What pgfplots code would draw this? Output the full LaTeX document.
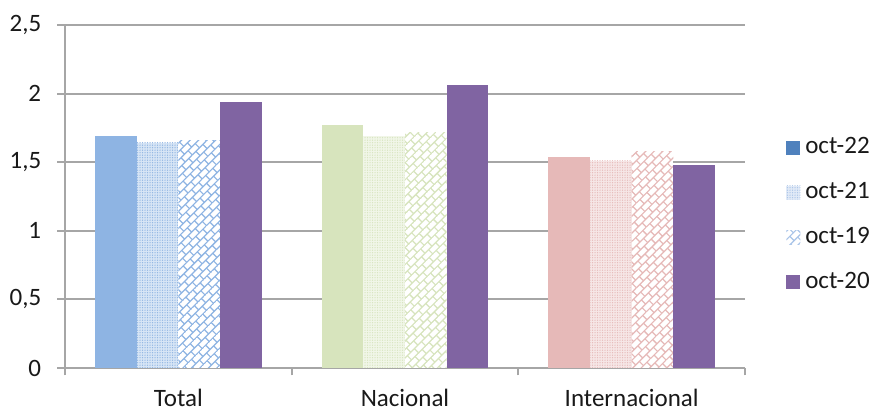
\documentclass[border=0pt]{standalone}
\usepackage{pgfplots}
\pgfplotsset{compat=1.18}
\usepackage{fontspec}
\setmainfont{Carlito}
\usetikzlibrary{patterns,patterns.meta}

\definecolor{totc}{HTML}{8EB4E3}
\definecolor{nacc}{HTML}{D7E4BD}
\definecolor{intc}{HTML}{E6B9B8}
\definecolor{purp}{HTML}{8064A2}
\definecolor{leg22}{HTML}{4F81BD}
\definecolor{legpat}{HTML}{A9C4E8}
\definecolor{gridc}{HTML}{A6A6A6}

% diagonal bricks
\tikzdeclarepattern{
  name=dbricks,
  type=uncolored,
  bottom left={(-0.2pt,-0.2pt)},
  top right={(4.2pt,5pt)},
  tile size={(4pt,4.8pt)},
  tile transformation={rotate=45},
  code={
    \draw[line width=0.5pt] (0pt,0pt) -- (4pt,0pt) (0pt,2.4pt) -- (4pt,2.4pt)
      (0pt,0pt) -- (0pt,2.4pt) (2pt,2.4pt) -- (2pt,4.8pt);
  }
}

\pgfplotsset{
  o22/.style={ybar, bar width=0.184, bar shift=-0.276, draw=none, fill=#1, forget plot},
  o21/.style={ybar, bar width=0.184, bar shift=-0.092, draw=none, fill=#1!35!white,
    postaction={pattern={Dots[distance=1pt, radius=0.28pt]}, pattern color=#1}, forget plot},
  o19/.style={ybar, bar width=0.184, bar shift=0.092, draw=none, fill=white,
    postaction={pattern=dbricks, pattern color=#1}, forget plot},
  o20/.style={ybar, bar width=0.184, bar shift=0.276, draw=none, fill=purp, forget plot},
}

\begin{document}
\begin{tikzpicture}
\begin{axis}[
    name=ax,
    scale only axis,
    width=272pt, height=137.2pt,
    xmin=-0.5, xmax=2.5,
    ymin=0, ymax=2.5,
    ytick={0,0.5,...,2.5},
    xtick={-0.5,0.5,1.5,2.5},
    x tick label as interval,
    xticklabels={Total,Nacional,Internacional},
    axis x line*=bottom, axis y line*=left,
    axis line style={gridc, line width=0.8pt},
    ymajorgrids, grid style={gridc, line width=0.8pt},
    tick align=outside, major tick length=3pt,
    tick style={gridc, line width=0.8pt},
    ticklabel style={font=\fontsize{10}{12}\selectfont, text=black!90},
    yticklabel style={xshift=-3pt},
    xticklabel style={yshift=-2pt},
    /pgf/number format/use comma,
    /pgf/number format/assume math mode=true,
    legend style={draw=none, fill=none, at={(1.06,0.446)}, anchor=west,
      font=\fontsize{10}{12}\selectfont, text=black!90, row sep=6pt, inner sep=0pt},
    legend cell align=left,
    clip=false,
]
% oct-22
\addplot[o22=totc] coordinates {(0,1.69)};
\addplot[o22=nacc] coordinates {(1,1.77)};
\addplot[o22=intc] coordinates {(2,1.54)};
% oct-21
\addplot[o21=totc] coordinates {(0,1.64)};
\addplot[o21=nacc] coordinates {(1,1.69)};
\addplot[o21=intc] coordinates {(2,1.51)};
% oct-19
\addplot[o19=totc] coordinates {(0,1.66)};
\addplot[o19=nacc] coordinates {(1,1.72)};
\addplot[o19=intc] coordinates {(2,1.58)};
% oct-20
\addplot[o20] coordinates {(0,1.94)};
\addplot[o20] coordinates {(1,2.06)};
\addplot[o20] coordinates {(2,1.48)};

\addlegendimage{draw=none, legend image code/.code={\path[draw=none, fill=leg22] (0pt,-2.8pt) rectangle (5.6pt,2.8pt);}}
\addlegendentry{oct-22}
\addlegendimage{draw=none, legend image code/.code={\path[draw=none, fill=legpat!35!white] (0pt,-2.8pt) rectangle (5.6pt,2.8pt);
  \path[draw=none, pattern={Dots[distance=1pt, radius=0.28pt]}, pattern color=legpat] (0pt,-2.8pt) rectangle (5.6pt,2.8pt);}}
\addlegendentry{oct-21}
\addlegendimage{draw=none, legend image code/.code={\path[draw=none, pattern=dbricks, pattern color=legpat] (0pt,-2.8pt) rectangle (5.6pt,2.8pt);}}
\addlegendentry{oct-19}
\addlegendimage{draw=none, legend image code/.code={\path[draw=none, fill=purp] (0pt,-2.8pt) rectangle (5.6pt,2.8pt);}}
\addlegendentry{oct-20}
\end{axis}
\path ([shift={(-26pt,-17.6pt)}]ax.south west) rectangle ([shift={(52pt,10pt)}]ax.north east);
\end{tikzpicture}
\end{document}
